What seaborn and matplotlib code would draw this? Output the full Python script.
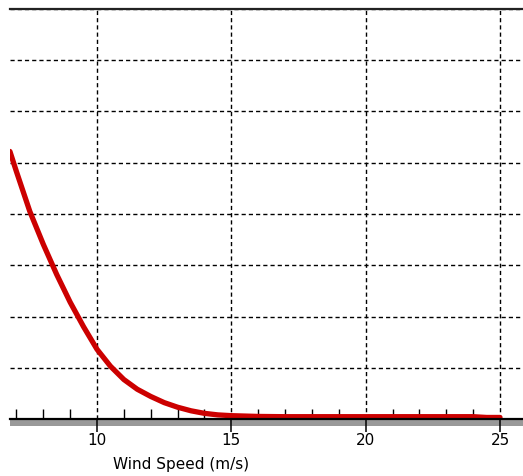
import numpy as np
import pandas as pd
import seaborn as sns
import matplotlib.pyplot as plt
from matplotlib.patches import Rectangle
from matplotlib.ticker import MultipleLocator

# values (y in grid units, bottom axis = 0)
wind_speed = [6.76, 7.0, 7.5, 8.0, 8.5, 9.0, 9.5, 10.0, 10.5, 11.0, 11.5, 12.0, 12.5,
              13.0, 13.5, 14.0, 14.5, 15.0, 16.0, 17.0, 18.0, 19.0, 20.0, 21.0,
              22.0, 23.0, 24.0, 24.5, 25.0]
curve = [5.22, 4.83, 4.05, 3.41, 2.82, 2.28, 1.80, 1.36, 1.03, 0.77, 0.58, 0.44, 0.32,
         0.23, 0.16, 0.11, 0.08, 0.065, 0.05, 0.045, 0.045, 0.045, 0.045, 0.045,
         0.045, 0.045, 0.045, 0.03, 0.03]
major_ticks = [10, 15, 20, 25]
tick_labels = ["10", "15", "20", "25"]

df = pd.DataFrame({"Wind Speed (m/s)": wind_speed, "value": curve})

sns.set_style("white")
plt.rcParams['font.family'] = ['DejaVu Sans']

fig = plt.figure(figsize=(5.23, 4.76), dpi=100)
ax = fig.add_axes([10/523, 57/476, 513/523, 410/476])

ax = sns.lineplot(data=df, x="Wind Speed (m/s)", y="value", color='#cc0000',
                  linewidth=3.8, ax=ax, zorder=5)

ax.set_xlim(6.762, 25.856)
ax.set_ylim(0, 8)

ax.set_xticks(major_ticks)
ax.set_xticklabels(tick_labels, fontsize=11, color='black')
ax.xaxis.set_minor_locator(MultipleLocator(1))
ax.set_yticks(range(0, 9))
ax.set_yticklabels([])

ax.tick_params(axis='x', which='major', bottom=True, direction='out', length=9.5,
               width=1.1, color='black', pad=0.5)
ax.tick_params(axis='x', which='minor', bottom=True, direction='in', length=7.2,
               width=1.0, color='black')
ax.tick_params(axis='y', left=False, length=0)

ax.grid(True, which='major', color='black', linestyle=(0, (3, 2.2)), linewidth=1.0)

for s in ['left', 'right']:
    ax.spines[s].set_visible(False)
ax.spines['top'].set_linewidth(1.6)
ax.spines['top'].set_color('#222222')
ax.spines['bottom'].set_linewidth(1.6)
ax.spines['bottom'].set_color('black')
ax.spines['bottom'].set_zorder(6)

ax.set_ylabel(None)
ax.set_xlabel("Wind Speed (m/s)", fontsize=11, color='black')
ax.xaxis.set_label_coords(0.333, -0.092)

# grey shadow band under the axis line
fig.add_artist(Rectangle((10/523, 50/476), 513/523, 6/476, transform=fig.transFigure,
                         facecolor='#999999', edgecolor='none', zorder=-1))

fig.savefig('out.png', dpi=100)
